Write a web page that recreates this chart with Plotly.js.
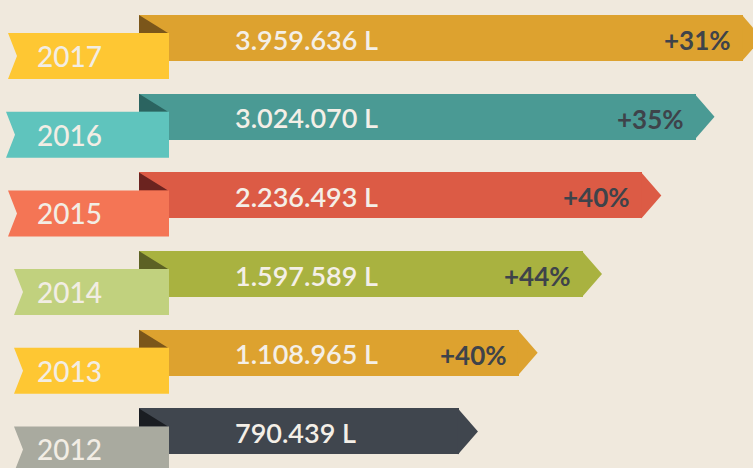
<!DOCTYPE html>
<html>
<head>
<meta charset="utf-8">
<script src="https://cdn.plot.ly/plotly-3.0.1.min.js"></script>
<style>
html,body{margin:0;padding:0;background:#F0E9DD;}
#chart{width:753px;height:468px;}
</style>
</head>
<body>
<div id="chart"></div>
<script>
// ---- data ----
var years = [2017, 2016, 2015, 2014, 2013, 2012];
var yearLabels = ['2017', '2016', '2015', '2014', '2013', '2012'];
var volumes = [3959636, 3024070, 2236493, 1597589, 1108965, 790439];
var volumeLabels = ['3.959.636 L', '3.024.070 L', '2.236.493 L', '1.597.589 L', '1.108.965 L', '790.439 L'];
var growthLabels = ['+31%', '+35%', '+40%', '+44%', '+40%', ''];

// ---- styles ----
var barColors   = ['#DDA22F', '#4A9A94', '#DC5B45', '#A9B240', '#DDA22F', '#40464E'];
var foldColors  = ['#7B561A', '#2B6460', '#6B231F', '#5C6124', '#7B561A', '#1A1D22'];
var labelColors = ['#FEC733', '#5FC4BD', '#F47555', '#C1D17E', '#FEC733', '#A9AA9F'];
var labelLeft   = [8, 6, 8, 14, 14, 14];
var bg = '#F0E9DD';
var barBase = 128800;      // where the ribbons start on the log axis
var font = 'Lato, "Open Sans", sans-serif';

// a bar drawn with a base spans base .. base + length, so the length is
// value - base to make each ribbon end exactly at its value on the log axis
var traces = [{
  type: 'bar',
  orientation: 'h',
  x: volumes.map(function (v) { return v - barBase; }),
  y: years,
  base: barBase,
  width: 0.5845,
  marker: {color: barColors, line: {width: 0}},
  hoverinfo: 'none',
  showlegend: false
}];

var shapes = [];
var annotations = [];
for (var i = 0; i < years.length; i++) {
  // arrow tip
  shapes.push({
    type: 'path', xref: 'x', yref: 'y',
    xsizemode: 'pixel', xanchor: volumes[i],
    ysizemode: 'pixel', yanchor: years[i],
    path: 'M -1,23 L 19,0 L -1,-23 Z',
    fillcolor: barColors[i], line: {width: 0}
  });
  // fold triangle
  shapes.push({
    type: 'path', xref: 'paper', yref: 'y',
    xsizemode: 'pixel', xanchor: 0,
    ysizemode: 'pixel', yanchor: years[i],
    path: 'M 139,23 L 139,5 L 168,5 Z',
    fillcolor: foldColors[i], line: {width: 0}
  });
  // year label ribbon
  var L = labelLeft[i];
  shapes.push({
    type: 'path', xref: 'paper', yref: 'y',
    xsizemode: 'pixel', xanchor: 0,
    ysizemode: 'pixel', yanchor: years[i],
    path: 'M ' + L + ',5 L 169,5 L 169,-41 L ' + L + ',-41 L ' + (L + 9) + ',-18 Z',
    fillcolor: labelColors[i], line: {width: 0}
  });
  annotations.push({
    xref: 'paper', x: 35 / 753, xanchor: 'left',
    yref: 'y', y: years[i], yanchor: 'middle', yshift: -18,
    text: yearLabels[i], showarrow: false,
    font: {family: font, size: 28, color: '#F2EDE4', weight: 500}
  });
  annotations.push({
    xref: 'paper', x: 233 / 753, xanchor: 'left',
    yref: 'y', y: years[i], yanchor: 'middle', yshift: -1,
    text: volumeLabels[i], showarrow: false,
    font: {family: font, size: 27, color: '#F4EFE7', weight: 600}
  });
  if (growthLabels[i]) {
    annotations.push({
      xref: 'x', x: Math.log10(volumes[i]), xanchor: 'right', xshift: -10,
      yref: 'y', y: years[i], yanchor: 'middle', yshift: -2,
      text: growthLabels[i], showarrow: false,
      font: {family: font, size: 26, color: '#3E434A', weight: 700}
    });
  }
}

var layout = {
  width: 753, height: 468,
  margin: {l: 0, r: 0, t: 0, b: 0, pad: 0},
  paper_bgcolor: bg, plot_bgcolor: bg,
  showlegend: false,
  xaxis: {type: 'log', range: [4.7675, 6.6222], visible: false, fixedrange: true},
  yaxis: {range: [2011.536, 2017.483], visible: false, fixedrange: true},
  shapes: shapes,
  annotations: annotations,
  bargap: 0
};

Plotly.newPlot('chart', traces, layout, {staticPlot: true, displayModeBar: false});
</script>
</body>
</html>
